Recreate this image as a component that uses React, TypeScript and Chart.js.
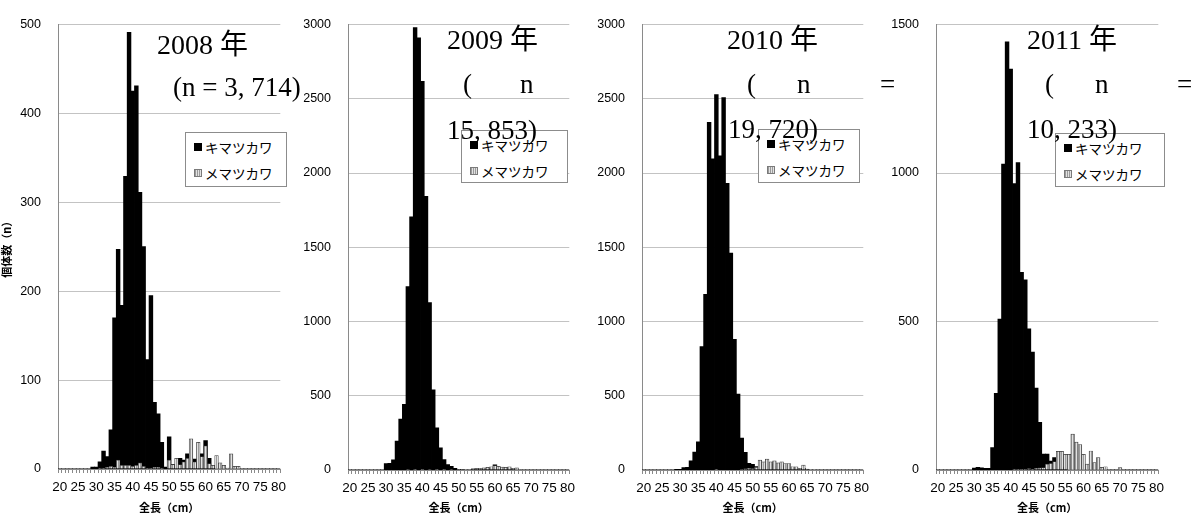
import React, { useEffect, useRef } from "react";
import { Chart, registerables } from "chart.js";
Chart.register(...registerables);

// ---- categories (total length, cm) ----
const lengthCategories = [
  "20","21","22","23","24","25","26","27","28","29",
  "30","31","32","33","34","35","36","37","38","39",
  "40","41","42","43","44","45","46","47","48","49",
  "50","51","52","53","54","55","56","57","58","59",
  "60","61","62","63","64","65","66","67","68","69",
  "70","71","72","73","74","75","76","77","78","79",
  "80",
];

// ---- 2008 ----
const kimatsu2008 = [
  0,0,0,0,0,0,0,0,0,2,
  2,8,20,14,44,170,247,184,329,491,
  425,431,311,250,123,195,75,62,30,2,
  36,5,3,12,10,17,5,11,6,17,
  32,12,2,0,0,0,0,0,0,0,
  0,0,0,0,0,0,0,0,0,0,
  0,
];
const mematsu2008 = [
  0,0,0,0,0,0,0,0,0,0,
  0,1,1,2,3,2,10,4,4,4,
  3,4,7,3,1,1,2,2,1,0,
  10,5,12,5,8,12,34,8,30,14,
  26,6,4,15,7,4,1,17,3,3,
  0,0,0,0,0,0,0,0,0,0,
  0,
];

// ---- 2009 ----
const kimatsu2009 = [
  0,0,0,0,0,0,0,0,0,0,
  42,44,68,195,343,442,1235,1705,2978,2910,
  2616,1842,1127,540,283,148,70,36,25,11,
  4,1,0,0,5,8,5,8,10,8,
  35,12,8,5,10,5,0,0,0,0,
  0,0,0,0,0,0,0,0,0,0,
  0,
];
const mematsu2009 = [
  0,0,0,0,0,0,0,0,0,0,
  0,0,0,0,0,0,3,0,5,0,
  4,0,3,0,2,0,2,0,3,0,
  2,1,1,3,8,10,12,15,18,22,
  30,25,20,18,22,12,15,3,0,0,
  0,0,0,0,0,0,0,0,0,0,
  0,
];

// ---- 2010 ----
const kimatsu2010 = [
  0,0,0,0,0,0,0,0,0,3,
  4,15,18,62,120,190,830,1183,2340,2095,
  2528,2115,2507,1930,1460,880,510,215,118,44,
  37,22,10,40,30,40,25,35,20,30,
  25,10,8,5,10,3,0,0,0,0,
  0,0,0,0,0,0,0,0,0,0,
  0,
];
const mematsu2010 = [
  0,0,0,0,0,0,0,0,0,0,
  0,0,0,0,0,0,0,0,0,0,
  5,0,0,0,0,0,0,3,8,12,
  10,18,66,55,73,55,62,48,55,44,
  44,22,22,11,33,7,2,1,0,0,
  0,0,0,0,0,0,0,0,0,0,
  0,
];

// ---- 2011 ----
const kimatsu2011 = [
  0,0,0,0,0,0,0,0,0,0,
  6,9,7,5,5,75,258,508,1030,1441,
  1350,964,1035,665,640,475,397,276,160,53,
  53,30,42,20,10,5,0,0,0,0,
  0,0,0,0,0,0,0,0,0,0,
  0,0,0,0,0,0,0,0,0,0,
  0,
];
const mematsu2011 = [
  0,0,0,0,0,0,0,0,0,0,
  0,0,0,0,0,0,0,0,0,0,
  0,3,2,2,3,5,2,6,7,8,
  20,22,28,63,63,53,53,121,94,86,
  53,20,64,25,42,9,11,0,0,0,
  8,0,0,0,0,0,0,0,0,0,
  0,
];

const seriesNames = ["キマツカワ", "メマツカワ"];
const yMaxes = [500, 3000, 3000, 1500];
const ySteps = [100, 500, 500, 500];
const xTitle = "全長（cm）";
const yTitle = "個体数（n）";

type PanelCfg = {
  left: number;
  width: number;
  yWidth: number;
  xHeight: number;
  black: number[];
  gray: number[];
  max: number;
  step: number;
  showYTitle: boolean;
};

const panels: PanelCfg[] = [
  { left: 0, width: 292, yWidth: 58, xHeight: 47, black: kimatsu2008, gray: mematsu2008, max: yMaxes[0], step: ySteps[0], showYTitle: true },
  { left: 292, width: 289, yWidth: 56, xHeight: 46, black: kimatsu2009, gray: mematsu2009, max: yMaxes[1], step: ySteps[1], showYTitle: false },
  { left: 581, width: 294, yWidth: 61, xHeight: 46, black: kimatsu2010, gray: mematsu2010, max: yMaxes[2], step: ySteps[2], showYTitle: false },
  { left: 875, width: 295, yWidth: 61, xHeight: 46, black: kimatsu2011, gray: mematsu2011, max: yMaxes[3], step: ySteps[3], showYTitle: false },
];

type TitlePiece = { text: string; left: number; baseline: number; size: number };
const titlePieces: TitlePiece[] = [
  { text: "2008 年", left: 157, baseline: 55, size: 28 },
  { text: "(n = 3, 714)", left: 173, baseline: 97, size: 27 },
  { text: "2009 年", left: 447, baseline: 50, size: 28 },
  { text: "(", left: 463, baseline: 94, size: 27 },
  { text: "n", left: 520, baseline: 94, size: 27 },
  { text: "15, 853)", left: 447, baseline: 140, size: 27 },
  { text: "2010 年", left: 727, baseline: 50, size: 28 },
  { text: "(", left: 747, baseline: 94, size: 27 },
  { text: "n", left: 797, baseline: 94, size: 27 },
  { text: "=", left: 880, baseline: 94, size: 27 },
  { text: "19, 720)", left: 728, baseline: 139, size: 27 },
  { text: "2011 年", left: 1027, baseline: 50, size: 28 },
  { text: "(", left: 1045, baseline: 94, size: 27 },
  { text: "n", left: 1095, baseline: 94, size: 27 },
  { text: "=", left: 1177, baseline: 94, size: 27 },
  { text: "10, 233)", left: 1027, baseline: 139, size: 27 },
];

const legendBoxes = [
  { left: 185, top: 132, w: 102, h: 55 },
  { left: 461, top: 130, w: 107, h: 53 },
  { left: 758, top: 129, w: 102, h: 54 },
  { left: 1055, top: 133, w: 110, h: 54 },
];

const TICK_FONT = "'Liberation Sans', Arial, sans-serif";
const CJK_FONT = "'Noto Sans CJK JP', 'Noto Sans', sans-serif";

function makeHatch(): CanvasPattern | string {
  const c = document.createElement("canvas");
  c.width = 2;
  c.height = 2;
  const g = c.getContext("2d");
  if (!g) return "#cccccc";
  g.fillStyle = "#e2e2e2";
  g.fillRect(0, 0, 2, 2);
  g.fillStyle = "#9a9a9a";
  g.fillRect(0, 0, 1, 2);
  return g.createPattern(c, "repeat") || "#cccccc";
}

function Panel({ cfg }: { cfg: PanelCfg }) {
  const ref = useRef<HTMLCanvasElement>(null);
  useEffect(() => {
    if (!ref.current) return;
    const hatch = makeHatch();
    const chart = new Chart(ref.current, {
      type: "bar",
      data: {
        labels: lengthCategories,
        datasets: [
          {
            label: seriesNames[0],
            data: cfg.black,
            backgroundColor: "#000000",
            borderWidth: 0,
            inflateAmount: 0.4,
            barPercentage: 1,
            categoryPercentage: 1,
            grouped: false,
            order: 2,
          } as any,
          {
            label: seriesNames[1],
            data: cfg.gray,
            backgroundColor: hatch as any,
            borderColor: "#3a3a3a",
            borderWidth: 0.7,
            barPercentage: 1,
            categoryPercentage: 1,
            grouped: false,
            order: 1,
          } as any,
        ],
      },
      options: {
        responsive: false,
        animation: false,
        layout: { padding: { top: 17, right: 2, bottom: 4, left: 0 } },
        plugins: {
          legend: { display: false },
          tooltip: { enabled: false },
        },
        scales: {
          x: {
            type: "category",
            grid: {
              display: true,
              drawOnChartArea: false,
              drawTicks: true,
              tickLength: 4,
              color: "#8a8a8a",
              offset: true,
            },
            border: { display: true, color: "#8a8a8a" },
            ticks: {
              autoSkip: false,
              maxRotation: 0,
              minRotation: 0,
              padding: 6,
              color: "#000",
              font: { family: TICK_FONT, size: 13.5 },
              callback: (_v: any, i: number) =>
                Number(lengthCategories[i]) % 5 === 0 ? lengthCategories[i] : "",
            },
            title: {
              display: true,
              text: xTitle,
              color: "#000",
              font: { family: CJK_FONT, size: 11, weight: "bold" },
              padding: { top: 0, bottom: 2 },
            },
            afterFit: (s: any) => {
              s.height = cfg.xHeight;
            },
          } as any,
          y: {
            min: 0,
            max: cfg.max,
            ticks: {
              stepSize: cfg.step,
              padding: 17,
              color: "#000",
              font: { family: TICK_FONT, size: 12.5 },
              callback: (v: any) => String(v),
            },
            grid: { color: "#c3c3c3", drawTicks: false },
            border: { display: true, color: "#8a8a8a" },
            title: {
              display: cfg.showYTitle,
              text: yTitle,
              color: "#000",
              font: { family: CJK_FONT, size: 11, weight: "bold" },
              padding: { top: 0, bottom: 0 },
            },
            afterFit: (s: any) => {
              s.width = cfg.yWidth;
            },
          } as any,
        },
      },
    });
    return () => chart.destroy();
  }, [cfg]);
  return (
    <canvas
      ref={ref}
      width={cfg.width}
      height={520}
      style={{ position: "absolute", left: cfg.left, top: 0, width: cfg.width, height: 520 }}
    />
  );
}

function Legend({ box }: { box: { left: number; top: number; w: number; h: number } }) {
  const rows = [15, 41];
  return (
    <div
      style={{
        position: "absolute",
        left: box.left,
        top: box.top,
        width: box.w,
        height: box.h,
        boxSizing: "border-box",
        border: "1px solid #8c8c8c",
        background: "#fff",
      }}
    >
      {rows.map((cy, i) => (
        <React.Fragment key={i}>
          <div
            style={{
              position: "absolute",
              left: 8,
              top: cy - 5,
              width: 8,
              height: 8,
              boxSizing: "border-box",
              background:
                i === 0
                  ? "#000"
                  : "repeating-linear-gradient(90deg, #9a9a9a 0px, #9a9a9a 1px, #e2e2e2 1px, #e2e2e2 2px)",
              border: i === 0 ? "none" : "1px solid #7a7a7a",
            }}
          />
          <span
            style={{
              position: "absolute",
              left: 19,
              top: cy - 9,
              lineHeight: "16px",
              fontSize: 13.5,
              fontFamily: CJK_FONT,
              color: "#000",
              whiteSpace: "nowrap",
            }}
          >
            {seriesNames[i]}
          </span>
        </React.Fragment>
      ))}
    </div>
  );
}

export default function App() {
  useEffect(() => {
    document.body.style.margin = "0";
  }, []);
  return (
    <div style={{ position: "relative", width: 1197, height: 520, background: "#fff", overflow: "hidden" }}>
      {panels.map((p, i) => (
        <Panel key={i} cfg={p} />
      ))}
      {legendBoxes.map((b, i) => (
        <Legend key={i} box={b} />
      ))}
      {titlePieces.map((t, i) => (
        <span
          key={i}
          style={{
            position: "absolute",
            left: t.left,
            top: t.baseline - Math.round(t.size * 0.84),
            fontSize: t.size,
            lineHeight: `${t.size}px`,
            fontFamily: "'Liberation Serif', 'Noto Sans CJK JP', serif",
            color: "#000",
            whiteSpace: "pre",
          }}
        >
          {t.text}
        </span>
      ))}
    </div>
  );
}
